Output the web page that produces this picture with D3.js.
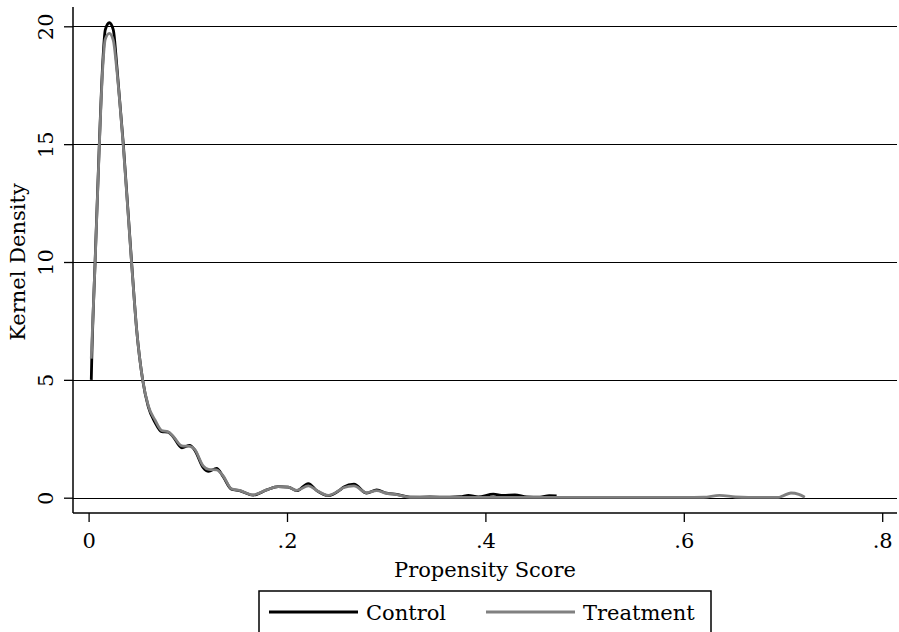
<!DOCTYPE html>
<html>
<head>
<meta charset="utf-8">
<script src="https://cdn.jsdelivr.net/npm/d3@7"></script>
<style>
  body { margin: 0; background: #fff; }
  text { font-family: "DejaVu Serif", serif; fill: #000; }
</style>
</head>
<body>
<svg id="chart" width="899" height="632"></svg>
<script>
// propensity score grid + kernel density
var controlScore = [0.0027, 0.0032, 0.0065, 0.0108, 0.0142, 0.0168, 0.0209, 0.0249, 0.0283, 0.035, 0.0434, 0.0485, 0.0545,
    0.0602, 0.0669, 0.0737, 0.080, 0.085, 0.094, 0.102, 0.107, 0.1155, 0.121, 0.129, 0.1357, 0.144, 0.152, 0.166,
    0.1795, 0.191, 0.2013, 0.2098, 0.2215, 0.23, 0.2416, 0.2534, 0.2568, 0.2675, 0.2803, 0.2904, 0.3005, 0.3106,
    0.324, 0.344, 0.364, 0.375, 0.3828, 0.3928, 0.408, 0.418, 0.4298, 0.4416, 0.455, 0.4644, 0.4718];
var controlDensity = [5.0, 5.9, 9.95, 15.0, 18.4, 19.85, 20.15, 19.85, 18.4, 15.0, 9.95, 7.1, 5.0,
    3.85, 3.2, 2.8, 2.78, 2.6, 2.12, 2.22, 2.02, 1.28, 1.12, 1.24, 0.89, 0.36, 0.30, 0.11,
    0.33, 0.47, 0.45, 0.30, 0.6, 0.30, 0.085, 0.33, 0.44, 0.57, 0.19, 0.33, 0.19, 0.14,
    0.02, 0.03, 0.02, 0.04, 0.1, 0.03, 0.15, 0.1, 0.12, 0.03, 0.02, 0.09, 0.08];

var treatmentScore = [0.0027, 0.0065, 0.0108, 0.0142, 0.0168, 0.0209, 0.0249, 0.0283, 0.035, 0.0434, 0.0485, 0.0545,
    0.0602, 0.0669, 0.0737, 0.080, 0.085, 0.094, 0.102, 0.107, 0.1155, 0.121, 0.129, 0.1357, 0.144, 0.152, 0.166,
    0.1795, 0.191, 0.2013, 0.2098, 0.2215, 0.23, 0.2416, 0.2534, 0.2568, 0.2675, 0.2803, 0.2904, 0.3005, 0.3106,
    0.324, 0.344, 0.40, 0.50, 0.60, 0.62, 0.636, 0.652, 0.665, 0.695, 0.70, 0.708, 0.716, 0.722];
var treatmentDensity = [5.9, 9.9, 14.9, 18.2, 19.45, 19.7, 19.4, 18.2, 14.9, 9.9, 7.1, 5.0,
    3.9, 3.3, 2.85, 2.8, 2.62, 2.2, 2.18, 2.05, 1.35, 1.2, 1.18, 0.92, 0.38, 0.31, 0.12,
    0.33, 0.47, 0.45, 0.31, 0.5, 0.31, 0.1, 0.33, 0.42, 0.5, 0.21, 0.3, 0.18, 0.13,
    0.02, 0.01, 0.01, 0.01, 0.01, 0.02, 0.1, 0.03, 0.01, 0.01, 0.08, 0.2, 0.14, 0.02];

var xTicks = [0, 0.2, 0.4, 0.6, 0.8];
var xTickLabels = ["0", ".2", ".4", ".6", ".8"];
var yTicks = [0, 5, 10, 15, 20];
var seriesNames = ["Control", "Treatment"];

var plotLeft = 73;
var plotRight = 897;
var plotTop = 7;
var plotBottom = 513;
var fontSize = 21;

var svg = d3.select("#chart");

var x = d3.scaleLinear().domain([0, 0.8]).range([88.6, 882.2]);
var y = d3.scaleLinear().domain([0, 20]).range([497.7, 26.3]);

// snap 1px lines to the pixel grid so they stay black
function crisp(v) {
    return Math.round(v) + 0.5;
}

function drawGrid() {
    svg.append("g")
        .selectAll("line")
        .data(yTicks)
        .enter().append("line")
        .attr("x1", plotLeft)
        .attr("x2", plotRight)
        .attr("y1", function(d){ return crisp(y(d)); })
        .attr("y2", function(d){ return crisp(y(d)); })
        .attr("stroke", "#000")
        .attr("stroke-width", 1);
}

function drawAxes() {
    // y axis, ticks go left
    var yAxis = d3.axisLeft(y).tickValues(yTicks).tickSize(9).tickFormat("");
    var gy = svg.append("g")
        .attr("transform", "translate(" + plotLeft + ",0)")
        .call(yAxis);
    gy.select(".domain").remove();
    gy.selectAll(".tick line").attr("stroke", "#000").attr("stroke-width", 1.3);

    gy.selectAll(".tick")
        .append("text")
        .text(function(d){ return d; })
        .attr("transform", "translate(-20,0) rotate(-90)")
        .attr("text-anchor", "middle")
        .attr("font-size", fontSize);

    svg.append("line")
        .attr("x1", plotLeft).attr("x2", plotLeft)
        .attr("y1", plotTop).attr("y2", plotBottom)
        .attr("stroke", "#000").attr("stroke-width", 1.5);

    // x axis
    var xAxis = d3.axisBottom(x).tickValues(xTicks).tickSize(9)
        .tickFormat(function(d, i){ return xTickLabels[i]; });
    var gx = svg.append("g")
        .attr("transform", "translate(0," + plotBottom + ")")
        .call(xAxis);
    gx.select(".domain").remove();
    gx.selectAll(".tick line").attr("stroke", "#000").attr("stroke-width", 1.3);
    gx.selectAll(".tick text")
        .attr("y", 35)
        .attr("dy", null)
        .attr("font-size", fontSize)
        .attr("font-family", "DejaVu Serif")
        .attr("fill", "#000");

    svg.append("line")
        .attr("x1", plotLeft).attr("x2", plotRight)
        .attr("y1", plotBottom).attr("y2", plotBottom)
        .attr("stroke", "#000").attr("stroke-width", 1.5);

    svg.append("text")
        .text("Propensity Score")
        .attr("x", 485)
        .attr("y", 577)
        .attr("text-anchor", "middle")
        .attr("font-size", fontSize);

    svg.append("text")
        .text("Kernel Density")
        .attr("transform", "translate(25," + ((plotTop + plotBottom) / 2 + 2) + ") rotate(-90)")
        .attr("text-anchor", "middle")
        .attr("font-size", fontSize);
}

function drawCurve(scores, densities, color) {
    var pts = scores.map(function(s, i){ return [s, densities[i]]; });
    var line = d3.line()
        .x(function(d){ return x(d[0]); })
        .y(function(d){ return y(d[1]); })
        .curve(d3.curveMonotoneX);
    svg.append("path")
        .datum(pts)
        .attr("d", line)
        .attr("fill", "none")
        .attr("stroke", color)
        .attr("stroke-width", 2.8)
        .attr("stroke-linejoin", "round");
}

function drawLegend() {
    var g = svg.append("g");
    g.append("rect")
        .attr("x", 259)
        .attr("y", 591)
        .attr("width", 452)
        .attr("height", 60)
        .attr("fill", "#fff")
        .attr("stroke", "#000")
        .attr("stroke-width", 1.5);

    var colors = ["#000", "#808080"];
    var starts = [269, 486];
    seriesNames.forEach(function(name, i){
        g.append("line")
            .attr("x1", starts[i]).attr("x2", starts[i] + 89)
            .attr("y1", 612).attr("y2", 612)
            .attr("stroke", colors[i])
            .attr("stroke-width", 2.8);
        g.append("text")
            .text(name)
            .attr("x", starts[i] + 97)
            .attr("y", 620)
            .attr("font-size", fontSize);
    });
}

drawGrid();
drawCurve(controlScore, controlDensity, "#000");
drawCurve(treatmentScore, treatmentDensity, "#808080");
drawAxes();
drawLegend();
</script>
</body>
</html>
